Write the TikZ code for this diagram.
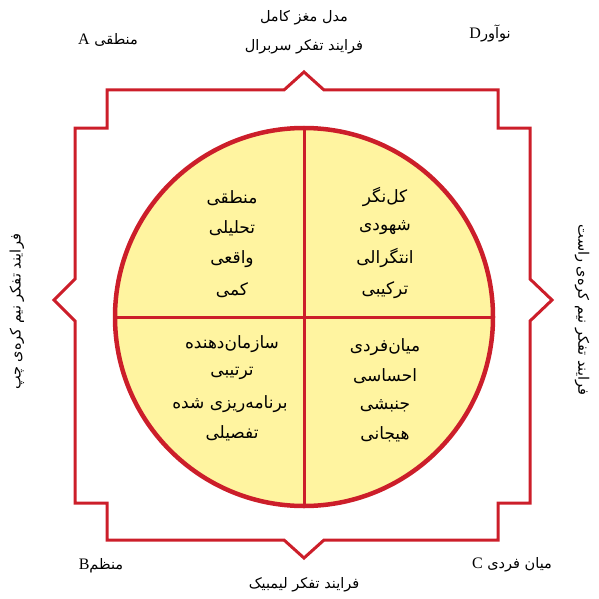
\documentclass[tikz,border=0pt]{standalone}
\usepackage{fontspec}
\setmainfont{Liberation Serif}
\newfontfamily\persianfont[Script=Arabic]{DejaVu Sans}
\TeXXeTstate=1
\usepackage{xcolor}
\definecolor{brainred}{RGB}{204,30,42}
\definecolor{brainyellow}{RGB}{255,244,160}

\begin{document}
\begin{tikzpicture}[x=1pt,y=-1pt,
  fa/.style={font=\persianfont\fontsize{14.5}{16}\selectfont, inner sep=1pt},
  fain/.style={font=\persianfont\fontsize{17}{19}\selectfont, inner sep=1pt},
  outline/.style={brainred, line width=3pt, line join=miter}]
\useasboundingbox (0,0) rectangle (598,599);
% outer frame
\draw[outline] (107,90) -- (284,90) -- (304,72) -- (324,90) -- (498,90) -- (498,128)
  -- (530,128) -- (530,279) -- (552,300) -- (530,321) -- (530,503) -- (498,503)
  -- (498,540) -- (324,540) -- (304,558) -- (284,540) -- (107,540) -- (107,503)
  -- (75,503) -- (75,321) -- (54,300) -- (75,279) -- (75,128) -- (107,128) -- cycle;
% circle and quadrants
\draw[brainred, line width=4.5pt, fill=brainyellow] (304,317) circle[radius=189pt];
\draw[brainred, line width=3pt] (304,128) -- (304,506);
\draw[brainred, line width=3pt] (115,317) -- (493,317);
% top-left quadrant
\node[fain] (qa1) at (232,198) {\beginR منطقی\endR};
\node[fain] (qa2) at (232,228) {\beginR تحلیلی\endR};
\node[fain] (qa3) at (232,259) {\beginR واقعی\endR};
\node[fain] (qa4) at (232,290) {\beginR کمی\endR};
% top-right quadrant
\node[fain] (qd1) at (385,197) {\beginR کل^^^^200cنگر\endR};
\node[fain] (qd2) at (385,228) {\beginR شهودی\endR};
\node[fain] (qd3) at (385,258) {\beginR انتگرالی\endR};
\node[fain] (qd4) at (385,290) {\beginR ترکیبی\endR};
% bottom-left quadrant
\node[fain] (qb1) at (232,344) {\beginR سازمان^^^^200cدهنده\endR};
\node[fain] (qb2) at (232,373) {\beginR ترتیبی\endR};
\node[fain] (qb3) at (230,404) {\beginR برنامه^^^^200cریزی شده\endR};
\node[fain] (qb4) at (232,433) {\beginR تفصیلی\endR};
% bottom-right quadrant
\node[fain] (qc1) at (385,347) {\beginR میان^^^^200cفردی\endR};
\node[fain] (qc2) at (385,376) {\beginR احساسی\endR};
\node[fain] (qc3) at (385,406) {\beginR جنبشی\endR};
\node[fain] (qc4) at (385,434) {\beginR هیجانی\endR};
% outer labels
\node[fa] (title) at (304,18) {\beginR مدل مغز کامل\endR};
\node[fa] (cerebral) at (304,47) {\beginR فرایند تفکر سربرال\endR};
\node[fa] (limbic) at (304,585) {\beginR فرایند تفکر لیمبیک\endR};
\node[fa] (cornerA) at (108,40) {\beginR منطقی {\rmfamily\fontsize{16}{18}\selectfont A}\endR};
\node[fa] (cornerD) at (490,33) {\beginR نوآور{\rmfamily\fontsize{16}{18}\selectfont D}\endR};
\node[fa] (cornerB) at (101,566) {\beginR منظم{\rmfamily\fontsize{16}{18}\selectfont B}\endR};
\node[fa] (cornerC) at (512,565) {\beginR میان فردی {\rmfamily\fontsize{16}{18}\selectfont C}\endR};
\node[fa, rotate=90] (lefthemi) at (17,312) {\beginR فرایند تفکر نیم کره^^^^200cی چپ\endR};
\node[fa, rotate=-90] (righthemi) at (582,310) {\beginR فرایند تفکر نیم کره^^^^200cی راست\endR};
\end{tikzpicture}
\end{document}
